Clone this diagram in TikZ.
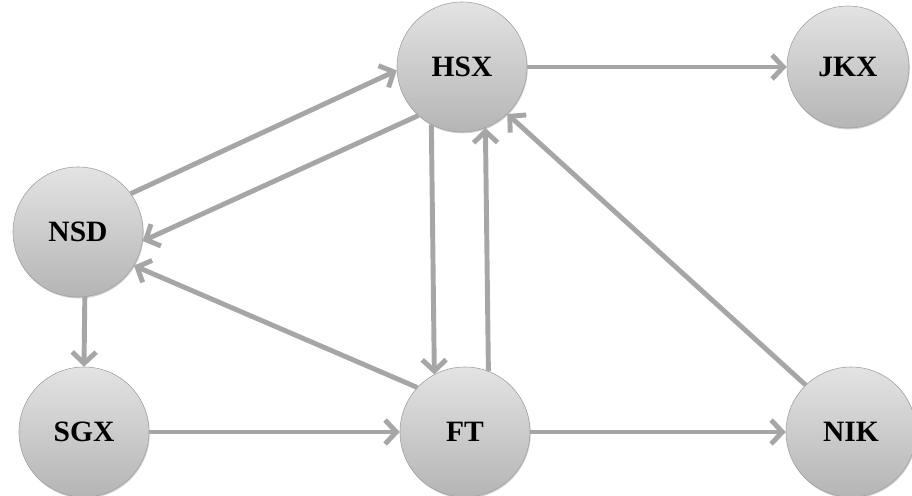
\documentclass[tikz,border=0pt]{standalone}
\usepackage{fontspec}
\setmainfont{Liberation Serif}
\usetikzlibrary{arrows.meta, shadows}

\tikzset{
    market/.style = {circle, minimum size = 3.25cm, inner sep = 0pt,
        top color = gray!22, bottom color = gray!58, draw = gray!75,
        drop shadow = {opacity = 0.35, shadow xshift = 0.5pt, shadow yshift = -1pt},
        font = \fontsize{21}{25}\selectfont\bfseries},
    flow/.style = {gray!70, line width = 3.5pt,
        -{Straight Barb[length = 8pt, width = 17pt, line width = 3.5pt]}}
}

\begin{document}
\begin{tikzpicture}[x = 0.025cm, y = -0.025cm]
                \useasboundingbox (0,0) rectangle (912,495);

                % Markets:
                \node [market] (HSX) at (462,67) {HSX};
                \node [market, minimum size = 3.05cm] (JKX) at (848,67) {JKX};
                \node [market] (NSD) at (78,232) {NSD};
                \node [market] (SGX) at (84,432) {SGX};
                \node [market] (FT) at (465,432) {FT};
                \node [market] (NIK) at (851,432) {NIK};

                % Links:
                \draw [flow] (NSD.36) -- (HSX.183);
                \draw [flow] (HSX.228) -- (NSD.-8);
                \draw [flow] (HSX) -- (JKX);
                \draw [flow] (HSX.-118) -- (FT.118);
                \draw [flow] (FT.69) -- (HSX.-69);
                \draw [flow] (FT.137) -- (NSD.-31);
                \draw [flow] (NIK.134) -- (HSX.-46);
                \draw [flow] (NSD.-84) -- (SGX.north);
                \draw [flow] (SGX) -- (FT);
                \draw [flow] (FT) -- (NIK);
            \end{tikzpicture}
\end{document}
